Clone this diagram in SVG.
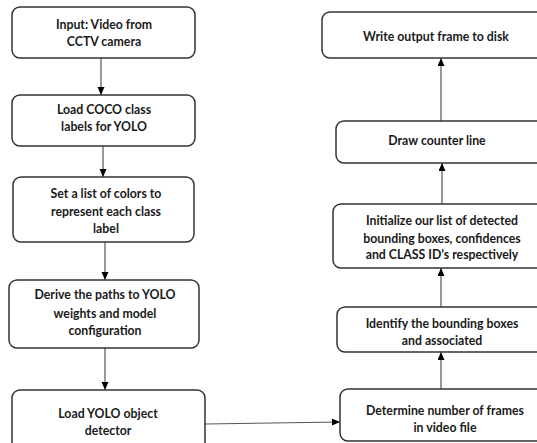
<svg xmlns="http://www.w3.org/2000/svg" width="537" height="443" viewBox="0 0 537 443">
<defs>
<marker id="ah" markerWidth="8" markerHeight="8" refX="8" refY="3.5" orient="auto" markerUnits="userSpaceOnUse">
<path d="M0,0 L8,3.5 L0,7 z" fill="#000"/>
</marker>
<style>
.box{fill:#fff;stroke:#333;stroke-width:1.5}
.t{font-family:Lato,"Open Sans","Liberation Sans",sans-serif;font-weight:bold;font-size:12.3px;fill:#1a1a1a;text-anchor:middle}
.c{stroke:#555;stroke-width:1.2;fill:none;marker-end:url(#ah)}
</style>
</defs>
<rect width="537" height="443" fill="#fff"/>
<g id="connectors">
<line class="c" x1="101" y1="58" x2="101" y2="95"/>
<line class="c" x1="103" y1="146" x2="103" y2="177"/>
<line class="c" x1="105" y1="242" x2="105" y2="280"/>
<line class="c" x1="105" y1="348" x2="105" y2="390"/>
<line class="c" x1="205" y1="424" x2="340" y2="422"/>
<line class="c" x1="441" y1="389" x2="441" y2="352"/>
<line class="c" x1="441" y1="307" x2="441" y2="268"/>
<line class="c" x1="442" y1="204" x2="442" y2="163"/>
<line class="c" x1="441" y1="121" x2="441" y2="58"/>
</g>
<g id="n1"><rect class="box" x="12" y="7" width="183" height="51" rx="8"/>
<text class="t" x="104" y="29">Input: Video from</text><text class="t" x="104" y="46">CCTV camera</text></g>
<g id="n2"><rect class="box" x="12" y="95" width="183" height="51" rx="8"/>
<text class="t" x="104" y="114">Load COCO class</text><text class="t" x="104" y="131">labels for YOLO</text></g>
<g id="n3"><rect class="box" x="13" y="177" width="181" height="65" rx="8"/>
<text class="t" x="106" y="198">Set a list of colors to</text><text class="t" x="106" y="216">represent each class</text><text class="t" x="106" y="233">label</text></g>
<g id="n4"><rect class="box" x="9" y="280" width="190" height="68" rx="8"/>
<text class="t" x="105" y="299">Derive the paths to YOLO</text><text class="t" x="105" y="318">weights and model</text><text class="t" x="105" y="335">configuration</text></g>
<g id="n5"><rect class="box" x="12" y="390" width="193" height="62" rx="8"/>
<text class="t" x="108" y="418">Load YOLO object</text><text class="t" x="108" y="435">detector</text></g>
<g id="n6"><rect class="box" x="340" y="389" width="220" height="52" rx="8"/>
<text class="t" x="445" y="415">Determine number of frames</text><text class="t" x="445" y="432">in video file</text></g>
<g id="n7"><rect class="box" x="337" y="307" width="220" height="45" rx="8"/>
<text class="t" x="442" y="328">Identify the bounding boxes</text><text class="t" x="442" y="345">and associated</text></g>
<g id="n8"><rect class="box" x="333" y="204" width="220" height="64" rx="8"/>
<text class="t" x="442" y="225">Initialize our list of detected</text><text class="t" x="442" y="243">bounding boxes, confidences</text><text class="t" x="442" y="259">and CLASS ID’s respectively</text></g>
<g id="n9"><rect class="box" x="336" y="121" width="220" height="42" rx="8"/>
<text class="t" x="437" y="145">Draw counter line</text></g>
<g id="n10"><rect class="box" x="322" y="12" width="240" height="46" rx="8"/>
<text class="t" x="436" y="41">Write output frame to disk</text></g>
</svg>
